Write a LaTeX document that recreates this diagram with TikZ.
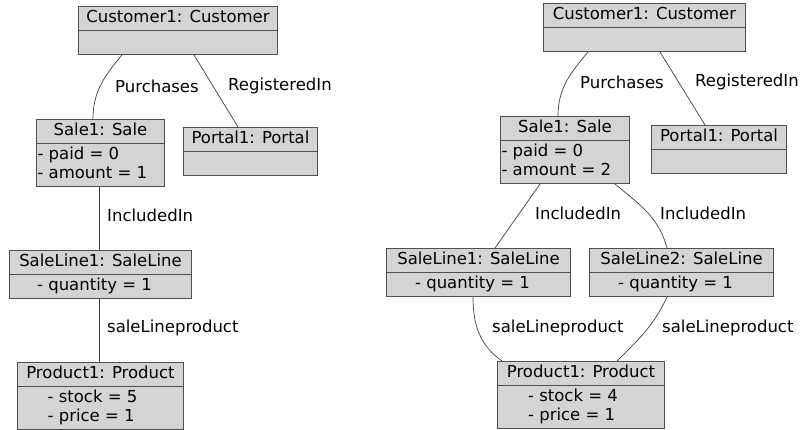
\documentclass[tikz,border=0pt]{standalone}
\usepackage{fontspec}
\setmainfont{DejaVu Sans}
\usetikzlibrary{shapes.multipart}

\definecolor{boxfill}{HTML}{D4D4D4}
\definecolor{boxline}{HTML}{505050}
\definecolor{linkline}{HTML}{404040}

\tikzstyle{obj} = [rectangle split, rectangle split parts=2, draw=boxline, line width=1pt, fill=boxfill, inner xsep=1pt, inner ysep=2pt, anchor=north west]
\tikzstyle{lbl} = [anchor=west, inner sep=0pt]
\tikzstyle{link} = [draw=linkline, line width=0.7pt]

\newcommand{\attrlines}[1]{\begin{tabular}{@{}l@{\hspace{16pt}}}#1\end{tabular}}

\begin{document}
\begin{tikzpicture}[x=1pt, y=-1pt, font=\fontsize{16.5}{19}\selectfont]
\useasboundingbox (0,0) rectangle (800,430);

% left diagram
\node (cust1) [obj, minimum width=199pt] at (78,6) {\strut Customer1: Customer \nodepart{two} \strut};
\node (sale1) [obj, minimum width=128pt, rectangle split part align={center,left}] at (36,119) {\strut Sale1: Sale \nodepart{two} \attrlines{- paid = 0\\- amount = 1}};
\node (portal1) [obj, minimum width=134pt] at (183,127) {\strut Portal1: Portal \nodepart{two} \strut};
\node (line1) [obj, minimum width=182pt] at (9,250) {\strut SaleLine1: SaleLine \nodepart{two} \strut - quantity = 1\hspace*{12pt}};
\node (prod1) [obj, minimum width=166pt] at (17,362) {\strut Product1: Product \nodepart{two} \attrlines{- stock = 5\\- price = 1}};

\draw [link] ([xshift=44pt]cust1.south west) to[out=-130, in=90] ([xshift=57pt]sale1.north west);
\draw [link] ([xshift=116pt]cust1.south west) -- ([xshift=55pt]portal1.north west);
\draw [link] ([xshift=63pt]sale1.south west) -- ([xshift=90pt]line1.north west);
\draw [link] ([xshift=90pt]line1.south west) -- ([xshift=82pt]prod1.north west);

\node (buy1) [lbl] at (115,86) {Purchases};
\node (reg1) [lbl] at (228,86) {RegisteredIn};
\node (inc1) [lbl] at (107,215) {IncludedIn};
\node (prd1) [lbl] at (107,328) {saleLineproduct};

% right diagram
\node (cust2) [obj, minimum width=202pt] at (543,3) {\strut Customer1: Customer \nodepart{two} \strut};
\node (sale2) [obj, minimum width=129pt, rectangle split part align={center,left}] at (500,116) {\strut Sale1: Sale \nodepart{two} \attrlines{- paid = 0\\- amount = 2}};
\node (portal2) [obj, minimum width=135pt] at (651,125) {\strut Portal1: Portal \nodepart{two} \strut};
\node (line2a) [obj, minimum width=184pt] at (386,248) {\strut SaleLine1: SaleLine \nodepart{two} \strut - quantity = 1\hspace*{12pt}};
\node (line2b) [obj, minimum width=184pt] at (589,248) {\strut SaleLine2: SaleLine \nodepart{two} \strut - quantity = 1\hspace*{12pt}};
\node (prod2) [obj, minimum width=167pt] at (497,361) {\strut Product1: Product \nodepart{two} \attrlines{- stock = 4\\- price = 1}};

\draw [link] ([xshift=45pt]cust2.south west) to[out=-130, in=90] ([xshift=58pt]sale2.north west);
\draw [link] ([xshift=117pt]cust2.south west) -- ([xshift=54pt]portal2.north west);
\draw [link] ([xshift=40pt]sale2.south west) to[out=-125, in=55] ([xshift=109pt]line2a.north west);
\draw [link] ([xshift=115pt]sale2.south west) to[out=-40, in=105] ([xshift=78pt]line2b.north west);
\draw [link] ([xshift=87pt]line2a.south west) to[out=-90, in=145] ([xshift=5pt]prod2.north west);
\draw [link] ([xshift=78pt]line2b.south west) to[out=-115, in=45] ([xshift=120pt]prod2.north west);

\node (buy2) [lbl] at (580,82) {Purchases};
\node (reg2) [lbl] at (695,82) {RegisteredIn};
\node (inc2a) [lbl] at (535,213) {IncludedIn};
\node (inc2b) [lbl] at (660,213) {IncludedIn};
\node (prd2a) [lbl] at (492,328) {saleLineproduct};
\node (prd2b) [lbl] at (662,328) {saleLineproduct};

\end{tikzpicture}
\end{document}
